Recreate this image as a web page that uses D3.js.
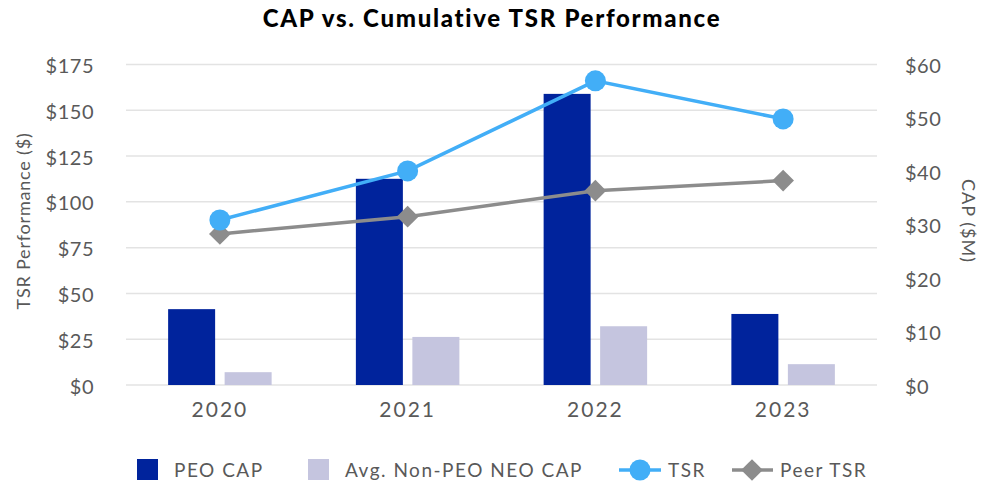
<!DOCTYPE html>
<html>
<head>
<meta charset="utf-8">
<script src="https://d3js.org/d3.v7.min.js"></script>
<style>
  body { margin: 0; background: #fff; }
  text { font-family: Lato, "Open Sans", sans-serif; }
</style>
</head>
<body>
<svg id="chart"></svg>
<script>
const years = ['2020', '2021', '2022', '2023'];
const peoCap = [14.2, 38.6, 54.5, 13.3];
const nonPeoCap = [2.4, 9.0, 11.0, 3.9];
const tsr = [90.1, 116.9, 166.1, 145.3];
const peerTsr = [82.5, 91.9, 106.1, 111.6];
const leftTicks = [0, 25, 50, 75, 100, 125, 150, 175];
const rightTicks = [0, 10, 20, 30, 40, 50, 60];

const width = 981, height = 487;
const plotLeft = 126, plotRight = 877, plotTop = 64.5, plotBottom = 385;
const grey = '#595959';

const svg = d3.select('#chart').attr('width', width).attr('height', height);

const x = d3.scaleBand().domain(years).range([plotLeft, plotRight]);
const yL = d3.scaleLinear().domain([0, 175]).range([plotBottom, plotTop]);
const yR = d3.scaleLinear().domain([0, 60]).range([plotBottom, plotTop]);

// gridlines
svg.append('g').selectAll('line').data(leftTicks).join('line')
  .attr('x1', plotLeft).attr('x2', plotRight)
  .attr('y1', d => yL(d)).attr('y2', d => yL(d))
  .attr('stroke', '#e3e3e3').attr('stroke-width', 1.5);

// bars (right axis)
const barW = 47, gap = 9.5;
svg.append('g').selectAll('rect').data(peoCap).join('rect')
  .attr('x', (d, i) => x(years[i]) + x.bandwidth() / 2 - gap / 2 - barW)
  .attr('y', d => yR(d))
  .attr('width', barW)
  .attr('height', d => plotBottom - yR(d))
  .attr('fill', '#00239c');
svg.append('g').selectAll('rect').data(nonPeoCap).join('rect')
  .attr('x', (d, i) => x(years[i]) + x.bandwidth() / 2 + gap / 2)
  .attr('y', d => yR(d))
  .attr('width', barW)
  .attr('height', d => plotBottom - yR(d))
  .attr('fill', '#c5c5df');

// lines (left axis)
const cx = (d, i) => x(years[i]) + x.bandwidth() / 2;
const line = d3.line().x(cx).y(d => yL(d));

svg.append('path').datum(peerTsr).attr('d', line)
  .attr('fill', 'none').attr('stroke', '#8c8c8c').attr('stroke-width', 3.5);
svg.append('g').selectAll('path').data(peerTsr).join('path')
  .attr('d', d3.symbol(d3.symbolDiamond2, 300))
  .attr('transform', (d, i) => `translate(${cx(d, i)},${yL(d)})`)
  .attr('fill', '#8c8c8c');

svg.append('path').datum(tsr).attr('d', line)
  .attr('fill', 'none').attr('stroke', '#42aef7').attr('stroke-width', 3.5);
svg.append('g').selectAll('circle').data(tsr).join('circle')
  .attr('cx', cx).attr('cy', d => yL(d)).attr('r', 10.5)
  .attr('fill', '#42aef7');

// axes
const axL = svg.append('g').attr('transform', `translate(${plotLeft - 29},0)`)
  .call(d3.axisLeft(yL).tickValues(leftTicks).tickSize(0).tickFormat(d => '$' + d));
const axR = svg.append('g').attr('transform', `translate(${plotRight + 25},0)`)
  .call(d3.axisRight(yR).tickValues(rightTicks).tickSize(0).tickFormat(d => '$' + d));
const axX = svg.append('g').attr('transform', `translate(0,${plotBottom + 8})`)
  .call(d3.axisBottom(x).tickSize(0));
[axL, axR, axX].forEach(a => {
  a.select('.domain').remove();
  a.selectAll('text').attr('font-size', 20).attr('fill', grey)
    .style('font-family', 'Lato, sans-serif').style('letter-spacing', '0.5px');
});
axL.selectAll('text').attr('dx', 0).attr('dy', '0.4em');
axR.selectAll('text').attr('dx', 0).attr('dy', '0.4em');
axX.selectAll('text').attr('dy', '1em').attr('font-size', 21).style('letter-spacing', '2px');

// titles
svg.append('text').attr('x', 492).attr('y', 27).attr('text-anchor', 'middle')
  .attr('font-size', 24).attr('font-weight', 900).attr('fill', '#000')
  .style('letter-spacing', '1.7px')
  .text('CAP vs. Cumulative TSR Performance');
svg.append('text').attr('transform', `translate(30,221) rotate(-90)`)
  .attr('text-anchor', 'middle').attr('font-size', 18).attr('fill', grey)
  .style('letter-spacing', '0.8px')
  .text('TSR Performance ($)');
svg.append('text').attr('transform', `translate(962,221) rotate(90)`)
  .attr('text-anchor', 'middle').attr('font-size', 18).attr('fill', grey)
  .style('letter-spacing', '1px')
  .text('CAP ($M)');

// legend
const ly = 470;
const legend = svg.append('g');
legend.append('rect').attr('x', 137).attr('y', ly - 11).attr('width', 21).attr('height', 21).attr('fill', '#00239c');
legend.append('text').attr('x', 174).attr('y', ly + 7).text('PEO CAP');
legend.append('rect').attr('x', 308).attr('y', ly - 11).attr('width', 21).attr('height', 21).attr('fill', '#c5c5df');
legend.append('text').attr('x', 345).attr('y', ly + 7).text('Avg. Non-PEO NEO CAP');
legend.append('line').attr('x1', 619).attr('x2', 661).attr('y1', ly).attr('y2', ly)
  .attr('stroke', '#42aef7').attr('stroke-width', 3.5);
legend.append('circle').attr('cx', 640).attr('cy', ly).attr('r', 10.5).attr('fill', '#42aef7');
legend.append('text').attr('x', 668).attr('y', ly + 7).text('TSR');
legend.append('line').attr('x1', 732).attr('x2', 773).attr('y1', ly).attr('y2', ly)
  .attr('stroke', '#8c8c8c').attr('stroke-width', 3.5);
legend.append('path').attr('d', d3.symbol(d3.symbolDiamond2, 300))
  .attr('transform', `translate(752,${ly})`).attr('fill', '#8c8c8c');
legend.append('text').attr('x', 780).attr('y', ly + 7).text('Peer TSR');
legend.selectAll('text').attr('font-size', 19).attr('fill', grey).style('letter-spacing', '1.5px');
</script>
</body>
</html>
